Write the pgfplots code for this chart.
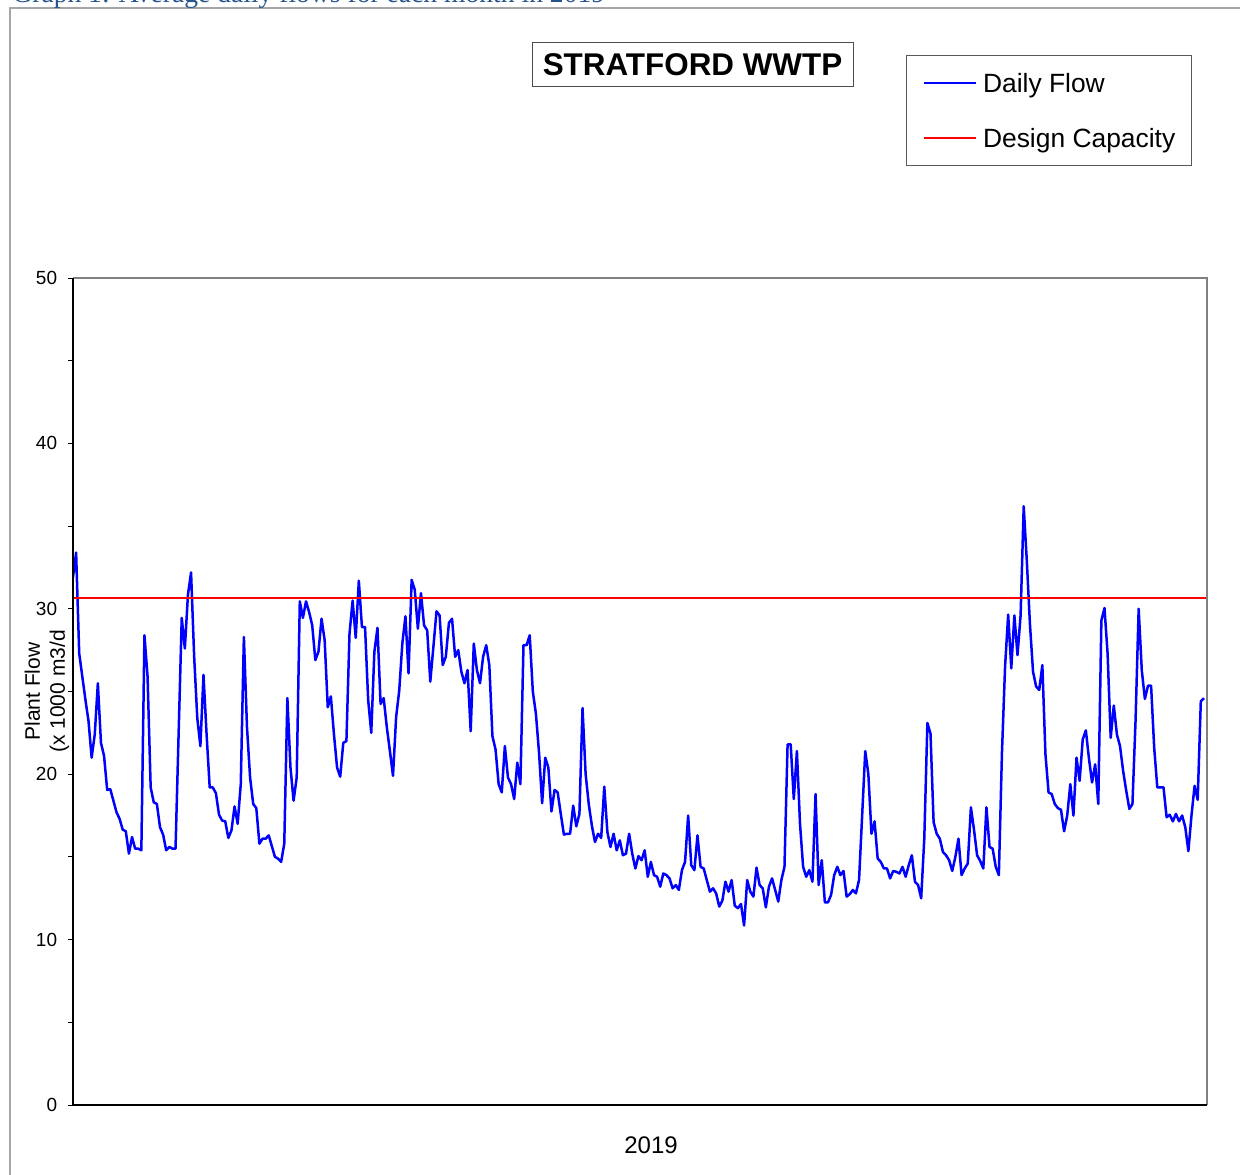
\documentclass[border=0pt]{standalone}
\usepackage{fontspec}
\setmainfont{Liberation Sans}
\newfontfamily\capfont{Liberation Serif}
\usepackage{pgfplots}
\pgfplotsset{compat=1.18}
\definecolor{capblue}{RGB}{38,84,140}
\definecolor{flowblue}{RGB}{0,0,255}
\definecolor{capred}{RGB}{255,0,0}
\begin{document}
\begin{tikzpicture}
\useasboundingbox (-36.5pt,-34.5pt) rectangle (583.5pt,552.5pt);
\clip (-36.5pt,-34.5pt) rectangle (583.5pt,552.5pt);
\draw[gray!70, line width=1pt] (-31.5pt,-42.5pt) rectangle (588.5pt,548.5pt);
\node[anchor=base west, inner sep=0pt, text=capblue, font=\capfont\fontsize{13.8}{16}\selectfont] at (-30.5pt,551pt) {Graph 1: Average daily flows for each month in 2019};
\begin{axis}[
  at={(0pt,0pt)}, anchor=south west,
  scale only axis, width=567pt, height=413.5pt,
  xmin=0, xmax=365, ymin=0, ymax=50,
  xtick=\empty,
  ytick={0,10,20,30,40,50},
  minor ytick={5,15,25,35,45},
  tick pos=left,
  tick align=outside,
  major tick length=2.25pt, minor tick length=2.25pt,
  every tick/.style={black, line width=0.5pt},
  axis line style={draw=none},
  /pgf/number format/assume math mode=true,
  yticklabel style={font=\fontsize{9.5}{11}\selectfont, inner sep=0pt, anchor=east, xshift=-5.5pt},
  xlabel={2019},
  xlabel style={font=\fontsize{12}{14}\selectfont, at={(axis description cs:0.5097,0)}, anchor=center, yshift=-20pt},
  ylabel={Plant Flow\\(x 1000 m3/d},
  ylabel style={font=\fontsize{10.5}{12.5}\selectfont, align=center, at={(axis description cs:0,0.5)}, anchor=center, yshift=13pt},
  title={STRATFORD WWTP},
  title style={at={(0.5463,1.2431)}, anchor=center, draw=gray!60!black, line width=0.5pt, minimum width=160.5pt, minimum height=22pt, inner sep=0pt, font=\bfseries\fontsize{15.7}{18}\selectfont},
  legend style={at={(0.7346,1.2697)}, anchor=north west, draw=gray!70!black, line width=0.5pt,
    font=\fontsize{13.2}{15.8}\selectfont, inner xsep=8pt, inner ysep=9pt, row sep=18pt, column sep=3pt,
    nodes={inner sep=0pt, text height=9.5pt, text depth=0pt}},
  legend cell align=left,
  legend image code/.code={\draw[#1] (0pt,0pt) -- (26pt,0pt);},
  after end axis/.code={
    \draw[gray, line width=0.6pt] (rel axis cs:0,1) -- (rel axis cs:1,1) -- (rel axis cs:1,0);
    \draw[black, line width=0.7pt] (rel axis cs:0,1) -- (rel axis cs:0,0) -- (rel axis cs:1,0);
  },
]
\addplot[flowblue, line width=1.25pt, line join=round] coordinates {
(0,31.9) (1,33.4) (2,27.3) (3,25.9) (4,24.5) (5,23.2) (6,21.0) (7,22.4) (8,25.5) (9,21.9)
(10,21.1) (11,19.05) (12,19.1) (13,18.4) (14,17.7) (15,17.3) (16,16.65) (17,16.55) (18,15.2) (19,16.2)
(20,15.5) (21,15.5) (22,15.4) (23,28.4) (24,25.9) (25,19.2) (26,18.3) (27,18.2) (28,16.8) (29,16.35)
(30,15.4) (31,15.6) (32,15.5) (33,15.5) (35,29.45) (36,27.6) (37,30.85) (38,32.2) (39,27.1)
(40,23.4) (41,21.7) (42,26.0) (43,22.4) (44,19.2) (45,19.2) (46,18.85) (47,17.55) (48,17.2) (49,17.15)
(50,16.15) (51,16.6) (52,18.05) (53,17.0) (54,19.4) (55,28.3) (56,22.85) (57,19.8) (58,18.2) (59,17.95)
(60,15.8) (61,16.1) (62,16.1) (63,16.3) (65,15.0) (66,14.9) (67,14.7) (68,15.8) (69,24.6)
(70,20.4) (71,18.4) (72,19.8) (73,30.45) (74,29.45) (75,30.45) (76,29.8) (77,29.0) (78,26.9) (79,27.4)
(80,29.4) (81,28.1) (82,24.05) (83,24.7) (84,22.4) (85,20.4) (86,19.85) (87,21.9) (88,22.0) (89,28.5)
(90,30.5) (91,28.25) (92,31.7) (93,28.9) (94,28.9) (95,24.5) (96,22.5) (97,27.4) (98,28.85) (99,24.25)
(100,24.6) (101,22.85) (102,21.4) (103,19.9) (104,23.45) (105,25.05) (106,27.9) (107,29.55) (108,26.1) (109,31.75)
(110,31.15) (111,28.8) (112,30.95) (113,29.0) (114,28.7) (115,25.6) (116,27.7) (117,29.85) (118,29.6) (119,26.6)
(120,27.1) (121,29.15) (122,29.4) (123,27.1) (124,27.5) (125,26.2) (126,25.5) (127,26.3) (128,22.6) (129,27.9)
(130,26.3) (131,25.5) (132,27.1) (133,27.8) (134,26.6) (135,22.3) (136,21.5) (137,19.4) (138,18.9) (139,21.7)
(140,19.8) (141,19.4) (142,18.5) (143,20.7) (144,19.4) (145,27.8) (146,27.8) (147,28.4) (148,25.0) (149,23.65)
(150,21.3) (151,18.25) (152,21.0) (153,20.4) (154,17.75) (155,19.05) (156,18.9) (157,17.6) (158,16.35) (159,16.4)
(160,16.4) (161,18.1) (162,16.85) (163,17.6) (164,24.0) (165,20.0) (166,18.2) (167,16.9) (168,15.9) (169,16.4)
(170,16.15) (171,19.25) (172,16.5) (173,15.6) (174,16.4) (175,15.4) (176,16.0) (177,15.1) (178,15.2) (179,16.4)
(180,15.2) (181,14.3) (182,15.05) (183,14.8) (184,15.4) (185,13.8) (186,14.7) (187,13.9) (188,13.8) (189,13.2)
(190,14.0) (191,13.9) (192,13.7) (193,13.1) (194,13.3) (195,13.0) (196,14.2) (197,14.7) (198,17.5) (199,14.5)
(200,14.2) (201,16.3) (202,14.4) (203,14.3) (204,13.6) (205,12.9) (206,13.1) (207,12.8) (208,12.0) (209,12.35)
(210,13.5) (211,12.9) (212,13.6) (213,12.05) (214,11.9) (215,12.15) (216,10.85) (217,13.6) (218,12.9) (219,12.6)
(220,14.35) (221,13.3) (222,13.1) (223,11.95) (224,13.2) (225,13.7) (226,13.0) (227,12.3) (228,13.6) (229,14.4)
(230,21.8) (231,21.8) (232,18.5) (233,21.4) (234,17.0) (235,14.4) (236,13.8) (237,14.2) (238,13.5) (239,18.8)
(240,13.3) (241,14.8) (242,12.25) (243,12.25) (244,12.7) (245,13.9) (246,14.4) (247,13.9) (248,14.15) (249,12.6)
(250,12.75) (251,13.0) (252,12.8) (253,13.6) (254,17.5) (255,21.4) (256,20.0) (257,16.4) (258,17.15) (259,14.9)
(260,14.7) (261,14.3) (262,14.3) (263,13.7) (264,14.15) (265,14.1) (266,14.0) (267,14.4) (268,13.8) (269,14.5)
(270,15.1) (271,13.5) (272,13.3) (273,12.5) (274,16.1) (275,23.1) (276,22.45) (277,17.1) (278,16.4) (279,16.1)
(280,15.3) (281,15.1) (282,14.8) (283,14.15) (284,15.0) (285,16.1) (286,13.9) (287,14.3) (288,14.6) (289,18.0)
(290,16.65) (291,15.1) (292,14.75) (293,14.3) (294,18.0) (295,15.6) (296,15.5) (297,14.4) (298,13.9) (299,21.3)
(300,26.5) (301,29.65) (302,26.4) (303,29.6) (304,27.2) (305,29.6) (306,36.2) (307,32.9) (308,29.1) (309,26.2)
(310,25.3) (311,25.1) (312,26.6) (313,21.2) (314,18.9) (315,18.8) (316,18.2) (317,17.95) (318,17.85) (319,16.55)
(320,17.5) (321,19.4) (322,17.5) (323,21.0) (324,19.6) (325,22.1) (326,22.65) (327,20.95) (328,19.5) (329,20.6)
(330,18.2) (331,29.3) (332,30.05) (333,27.3) (334,22.2) (335,24.15) (336,22.4) (337,21.7) (338,20.2) (339,19.0)
(340,17.9) (341,18.2) (342,23.25) (343,30.0) (344,26.3) (345,24.55) (346,25.35) (347,25.35) (348,21.6) (349,19.2)
(350,19.2) (351,19.2) (352,17.4) (353,17.55) (354,17.15) (355,17.6) (356,17.15) (357,17.5) (358,16.8) (359,15.35)
(360,17.5) (361,19.3) (362,18.45) (363,24.4) (364,24.6)
};
\addlegendentry{Daily Flow}
\addplot[capred, line width=1pt] coordinates {(0,30.65) (365,30.65)};
\addlegendentry{Design Capacity}
\end{axis}
\end{tikzpicture}
\end{document}
